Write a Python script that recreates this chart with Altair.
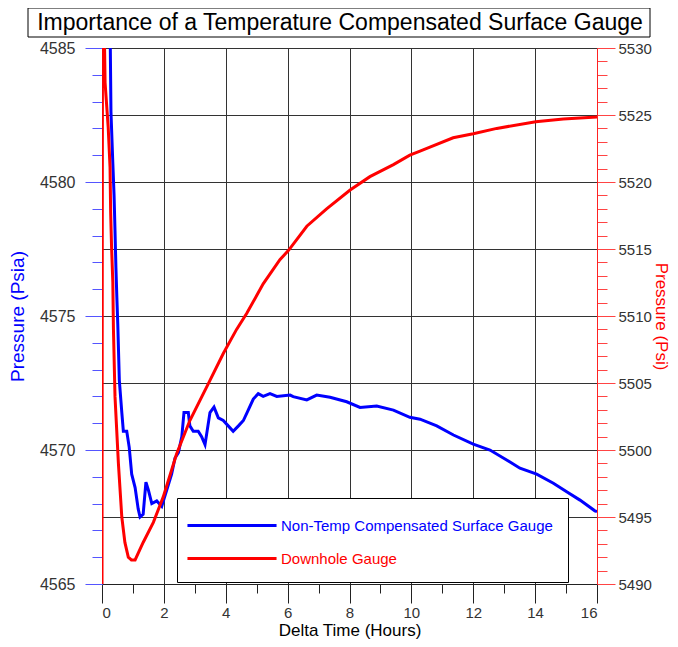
import altair as alt
import pandas as pd

# ---- data ----
SERIES_BLUE = "Non-Temp Compensated Surface Gauge"
SERIES_RED = "Downhole Gauge"

hours_blue = [0.22, 0.26, 0.29, 0.35, 0.39, 0.42, 0.45, 0.48, 0.51, 0.56, 0.64, 0.69,
              0.80, 0.88, 0.96, 1.07, 1.17, 1.23, 1.33, 1.42, 1.50, 1.61, 1.77, 1.93,
              2.09, 2.25, 2.36, 2.47, 2.58, 2.65, 2.79, 2.84, 2.95, 3.11, 3.22, 3.33,
              3.49, 3.62, 3.76, 3.92, 4.08, 4.24, 4.41, 4.57, 4.73, 4.89, 5.05, 5.21,
              5.43, 5.65, 6.08, 6.18, 6.62, 6.94, 7.37, 7.91, 8.34, 8.88, 9.42, 9.95,
              10.28, 10.82, 11.36, 12.00, 12.54, 13.08, 13.51, 14.05, 14.59, 15.02,
              15.45, 15.93, 16.00]
psia_blue = [4592.0, 4586.0, 4582.6, 4580.7, 4579.5, 4578.2, 4576.8, 4575.7, 4574.7,
             4572.6, 4571.4, 4570.7, 4570.7, 4570.1, 4569.1, 4568.6, 4567.8, 4567.5,
             4567.6, 4568.8, 4568.5, 4568.0, 4568.1, 4567.9, 4568.5, 4569.1, 4569.7,
             4569.9, 4570.5, 4571.4, 4571.4, 4570.9, 4570.7, 4570.7, 4570.5, 4570.2,
             4571.4, 4571.6, 4571.2, 4571.1, 4570.9, 4570.7, 4570.9, 4571.1, 4571.5,
             4571.9, 4572.1, 4572.0, 4572.1, 4572.0, 4572.05, 4571.99, 4571.87,
             4572.05, 4571.97, 4571.80, 4571.59, 4571.64, 4571.49, 4571.22, 4571.15,
             4570.90, 4570.56, 4570.22, 4570.00, 4569.63, 4569.32, 4569.10, 4568.76,
             4568.44, 4568.13, 4567.73, 4567.70]

hours_red = [0.0, 0.02, 0.07, 0.10, 0.20, 0.26, 0.28, 0.31, 0.35, 0.37, 0.42, 0.53,
             0.64, 0.74, 0.85, 0.95, 1.07, 1.33, 1.66, 1.98, 2.41, 2.84, 3.49, 3.92,
             4.35, 4.68, 5.21, 5.75, 6.03, 6.62, 7.26, 8.02, 8.66, 9.42, 9.95, 10.28,
             10.60, 11.35, 12.00, 12.76, 14.02, 14.91, 16.00]
psi_red = [5490.0, 5545.0, 5532.0, 5527.4, 5524.1, 5521.1, 5517.7, 5515.1, 5512.5,
           5509.0, 5504.0, 5499.0, 5495.0, 5493.1, 5492.0, 5491.8, 5491.8, 5493.1,
           5494.6, 5496.5, 5499.7, 5502.2, 5505.2, 5507.2, 5509.0, 5510.2, 5512.4,
           5514.2, 5514.9, 5516.7, 5518.0, 5519.4, 5520.4, 5521.3, 5522.0, 5522.3,
           5522.6, 5523.3, 5523.6, 5524.0, 5524.5, 5524.7, 5524.85]

x_ticks = list(range(0, 17))
left_ticks = list(range(4565, 4586))
right_ticks = list(range(5490, 5531))

TITLE = "Importance of a Temperature Compensated Surface Gauge"

blue_df = pd.DataFrame({"t": hours_blue, "p": psia_blue, "series": SERIES_BLUE,
                        "o": list(range(len(hours_blue)))})
red_df = pd.DataFrame({"t": hours_red, "p": psi_red, "series": SERIES_RED,
                       "o": list(range(len(hours_red)))})

FONT = "Liberation Sans"

color_scale = alt.Scale(domain=[SERIES_BLUE, SERIES_RED], range=["#0000ff", "#ff0000"])

x_axis = alt.Axis(
    title="Delta Time (Hours)", values=x_ticks, format="d",
    labelExpr="datum.value % 2 === 0 ? datum.label : ''",
    tickSize={"condition": {"test": "datum.value % 2 === 0", "value": 19}, "value": 9},
    tickColor="#222", domainColor="#222",
    grid=True, gridColor="#333",
    gridOpacity={"condition": {"test": "datum.value % 2 === 0", "value": 1}, "value": 0},
    labelFont=FONT, labelFontSize=15, labelColor="#333", labelPadding=2,
    titleFont=FONT, titleFontSize=17, titleFontWeight="normal", titleColor="#000",
    titlePadding=2,
)
x_enc = alt.X("t:Q", scale=alt.Scale(domain=[0, 16], nice=False, zero=False), axis=x_axis)

legend = alt.Legend(
    title=None, orient="none", legendX=75, legendY=450,
    fillColor="white", strokeColor="black", padding=15,
    symbolType="M-1.55,0H6.55", symbolSize=484, symbolStrokeWidth=3,
    labelFont=FONT, labelFontSize=15,
    labelColor=alt.ExprRef("datum.label == 'Downhole Gauge' ? '#ff0000' : '#0000ff'"),
    rowPadding=12, labelOffset=64, labelLimit=500,
)

blue = alt.Chart(blue_df).mark_line(strokeWidth=3, clip=True).encode(
    x=x_enc,
    y=alt.Y("p:Q", scale=alt.Scale(domain=[4565, 4585], nice=False, zero=False),
            axis=alt.Axis(
                title="Pressure (Psia)", values=left_ticks, orient="left", format="d",
                labelExpr="datum.value % 5 === 0 ? datum.label : ''",
                tickSize={"condition": {"test": "datum.value % 5 === 0", "value": 17}, "value": 10},
                tickColor="#5555ff", domainColor="#5555ff", grid=False,
                labelFont=FONT, labelFontSize=16, labelColor="#333", labelPadding=10,
                titleFont=FONT, titleFontSize=19, titleFontWeight="normal",
                titleColor="#0000ff", titlePadding=12,
            )),
    color=alt.Color("series:N", scale=color_scale, legend=legend),
    order="o:Q",
)

red = alt.Chart(red_df).mark_line(strokeWidth=3, clip=True).encode(
    x=x_enc,
    y=alt.Y("p:Q", scale=alt.Scale(domain=[5490, 5530], nice=False, zero=False),
            axis=alt.Axis(
                title="Pressure (Psi)", values=right_ticks, orient="right", format="d",
                labelExpr="datum.value % 5 === 0 ? datum.label : ''",
                tickSize={"condition": {"test": "datum.value % 5 === 0", "value": 18}, "value": 10},
                tickColor="#ff4444", domainColor="#ff2222", grid=True, gridColor="#333",
                gridOpacity={"condition": {"test": "datum.value % 5 === 0", "value": 1}, "value": 0},
                labelFont=FONT, labelFontSize=15, labelColor="#333", labelPadding=3,
                titleFont=FONT, titleFontSize=17, titleFontWeight="normal",
                titleColor="#ff0000", titlePadding=0, titleAngle=90,
            )),
    color=alt.Color("series:N", scale=color_scale, legend=legend),
    order="o:Q",
)

one = pd.DataFrame({"k": [0]})
title_box = alt.Chart(one).mark_rect(fill="white", stroke="black", strokeWidth=1).encode(
    x=alt.value(-74), x2=alt.value(548), y=alt.value(-40), y2=alt.value(-11)
)
title_text = alt.Chart(one).mark_text(
    font=FONT, fontSize=23, color="black", align="center", baseline="middle"
).encode(x=alt.value(238), y=alt.value(-25), text=alt.value(TITLE))

chart = alt.layer(title_box, title_text, blue, red).resolve_scale(
    y="independent"
).properties(
    width=495, height=536,
    autosize=alt.AutoSizeParams(type="none"),
    padding={"left": 94, "top": 40, "right": 73, "bottom": 55},
).configure_view(stroke=None).configure(background="white")

chart.save("out.html", embed_options={"renderer": "svg", "actions": False})
